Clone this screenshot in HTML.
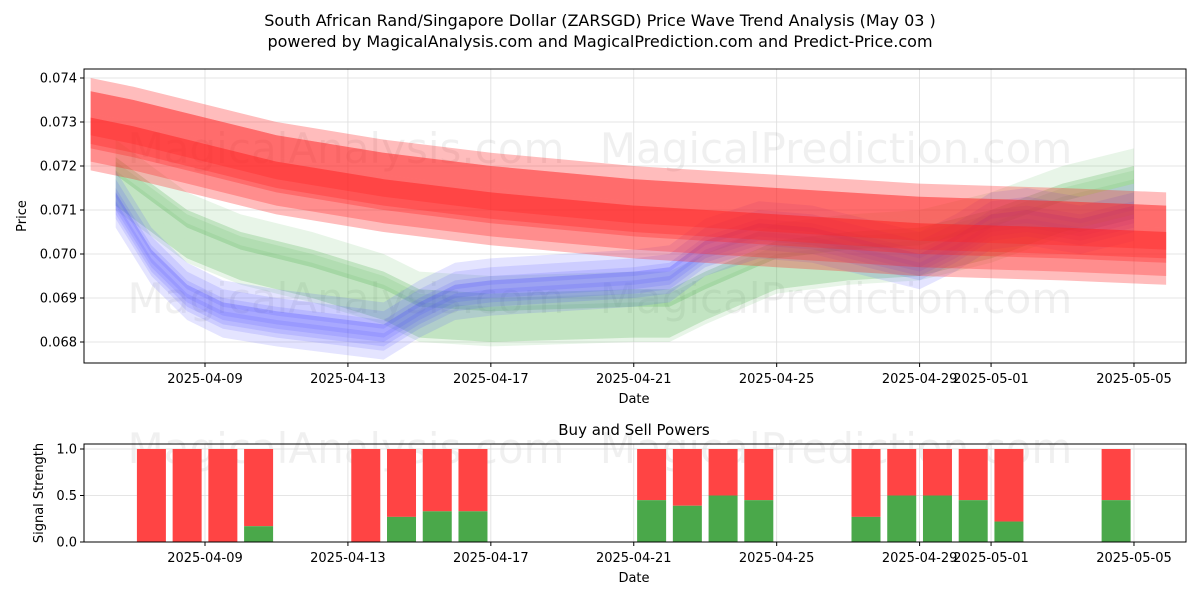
<!DOCTYPE html>
<html><head><meta charset="utf-8"><style>
body{margin:0;background:#fff;font-family:"Liberation Sans","DejaVu Sans",sans-serif}
svg text{font-family:"DejaVu Sans","Liberation Sans",sans-serif}
</style></head><body>
<svg id="chart" width="1200" height="600" xmlns="http://www.w3.org/2000/svg">
<rect width="1200" height="600" fill="#fff"/>
<text x="600" y="26" text-anchor="middle" font-size="16">South African Rand/Singapore Dollar (ZARSGD) Price Wave Trend Analysis (May 03 )</text>
<text x="600" y="47" text-anchor="middle" font-size="16">powered by MagicalAnalysis.com and MagicalPrediction.com and Predict-Price.com</text>
<g id="topPanel"></g>
<g id="botPanel"></g>
</svg>
<script>
const NS="http://www.w3.org/2000/svg";
const xTickLabels=["2025-04-09","2025-04-13","2025-04-17","2025-04-21","2025-04-25","2025-04-29","2025-05-01","2025-05-05"];
const xTickDays=[0,4,8,12,16,20,22,26];
const yTickLabels=["0.068","0.069","0.070","0.071","0.072","0.073","0.074"];
const yTickValues=[0.068,0.069,0.070,0.071,0.072,0.073,0.074];
const redDays=[-3.2,-2,0,2,5,8,12,16,20,24,26.9];
const redVals=[0.0728,0.0726,0.0722,0.0718,0.0714,0.0711,0.0708,0.0706,0.0704,0.0703,0.0702];
const blueDays=[-2.5,-1.5,-0.5,0.5,2,4,5,6,7,8,10,12,13,14,15.5,17,19,20,21,22,23,24.5,26];
const blueVals=[0.0713,0.0700,0.0692,0.0688,0.0686,0.0684,0.0683,0.0688,0.0692,0.0693,0.0694,0.0695,0.0696,0.0702,0.0706,0.0705,0.0701,0.0699,0.0703,0.0708,0.0709,0.0707,0.0710];
const greenDays=[-2.5,-1.5,-0.5,1,3,5,6,8,12,13,14,16,18,20,22,24,26];
const greenVals=[0.0716,0.0710,0.0704,0.0699,0.0695,0.0690,0.0686,0.0685,0.0686,0.0686,0.0690,0.0697,0.0699,0.0700,0.0704,0.0710,0.0714];
const barDays=[-2,-1,0,1,4,5,6,7,12,13,14,15,18,19,20,21,22,25];
const buyVals=[0,0,0,0.17,0,0.27,0.33,0.33,0.45,0.39,0.5,0.45,0.27,0.5,0.5,0.45,0.22,0.45];
const sigTickLabels=["0.0","0.5","1.0"];const sigTickValues=[0,0.5,1];

const L=84,R=1186,T1=69,B1=363,T2=444,B2=542;
const xs=d=>205+d*35.73;
const ys=v=>342-(v-0.068)*44000;
const ys2=v=>542-v*93;
function el(p,tag,a){const e=document.createElementNS(NS,tag);for(const k in a)e.setAttribute(k,a[k]);p.appendChild(e);return e;}
const topG=document.getElementById('topPanel'),botG=document.getElementById('botPanel');
xTickDays.forEach((d,i)=>{
  let g=el(topG,'line',{x1:xs(d),x2:xs(d),y1:T1,y2:B1,stroke:'#ddd','stroke-width':0.8});
  
  let g2=el(botG,'line',{x1:xs(d),x2:xs(d),y1:T2,y2:B2,stroke:'#ddd','stroke-width':0.8});
  
  el(topG,'line',{x1:xs(d),x2:xs(d),y1:B1,y2:B1+4,stroke:'#000'});
  el(botG,'line',{x1:xs(d),x2:xs(d),y1:B2,y2:B2+4,stroke:'#000'});
  let t=el(topG,'text',{x:xs(d),y:B1+20,'text-anchor':'middle','font-size':13});t.textContent=xTickLabels[i];
  
  let t2=el(botG,'text',{x:xs(d),y:B2+20,'text-anchor':'middle','font-size':13});t2.textContent=xTickLabels[i];
  
});
yTickValues.forEach((v,i)=>{
  let g=el(topG,'line',{x1:L,x2:R,y1:ys(v),y2:ys(v),stroke:'#ddd','stroke-width':0.8});
  
  el(topG,'line',{x1:L-4,x2:L,y1:ys(v),y2:ys(v),stroke:'#000'});
  let t=el(topG,'text',{x:L-7,y:ys(v)+4.5,'text-anchor':'end','font-size':13});t.textContent=yTickLabels[i];
  
});
sigTickValues.forEach((v,i)=>{
  let g=el(botG,'line',{x1:L,x2:R,y1:ys2(v),y2:ys2(v),stroke:'#ddd','stroke-width':0.8});
  
  el(botG,'line',{x1:L-4,x2:L,y1:ys2(v),y2:ys2(v),stroke:'#000'});
  let t=el(botG,'text',{x:L-7,y:ys2(v)+4.5,'text-anchor':'end','font-size':13});t.textContent=sigTickLabels[i];
  
});
[[346,163],[836,163],[346,313],[836,313],[346,463],[836,463]].forEach(p=>{
  let t=el(topG,'text',{x:p[0],y:p[1],'text-anchor':'middle','font-size':42,fill:'#000','fill-opacity':0.06});
  t.textContent=p[0]<600?'MagicalAnalysis.com':'MagicalPrediction.com';
  
});
const clip=el(topG,'clipPath',{id:'c1'});el(clip,'rect',{x:L,y:T1,width:R-L,height:B1-T1});
const bands=el(topG,'g',{'clip-path':'url(#c1)'});
function band(days,vals,off,half,color,op,name){
  const up=days.map((d,i)=>xs(d)+','+ys(vals[i]+off+half));
  const dn=days.map((d,i)=>xs(d)+','+ys(vals[i]+off-half)).reverse();
  const p=el(bands,'polygon',{points:up.concat(dn).join(' '),fill:color,'fill-opacity':op});
  
}
[[0.0002,0.0003],[-0.0001,0.0004],[0.0004,0.0002],[0,0.0006],[-0.0003,0.0002],[0.0006,0.0004]].forEach(b=>band(greenDays,greenVals,b[0],b[1],'#4caf50',0.13,'green-wave-band'));
[[0,0.0002],[-0.0002,0.0003],[0.0002,0.0002],[-0.0004,0.0003],[0.0001,0.0005],[-0.0001,0.0002]].forEach(b=>band(blueDays,blueVals,b[0],b[1],'#4d4dff',0.15,'blue-wave-band'));
[[0,0.0004],[0.0003,0.0006],[-0.0002,0.0005],[0.0008,0.0004],[0,0.0009],[0.0001,0.0002]].forEach(b=>band(redDays,redVals,b[0],b[1],'#ff2020',0.3,'red-wave-band'));
el(topG,'rect',{x:L,y:T1,width:R-L,height:B1-T1,fill:'none',stroke:'#000','stroke-width':1});
let tx=el(topG,'text',{x:634,y:403,'text-anchor':'middle','font-size':13});tx.textContent='Date';

let ty=el(topG,'text',{x:26,y:216,'text-anchor':'middle','font-size':13,transform:'rotate(-90 26 216)'});ty.textContent='Price';

barDays.forEach((d,i)=>{
  const cx=xs(d+0.5),w=29;
  let r=el(botG,'rect',{x:cx-w/2,y:ys2(1),width:w,height:ys2(buyVals[i])-ys2(1),fill:'#ff4444'});
  
  let g=el(botG,'rect',{x:cx-w/2,y:ys2(buyVals[i]),width:w,height:ys2(0)-ys2(buyVals[i]),fill:'#4aa84a'});
  
});
el(botG,'rect',{x:L,y:T2,width:R-L,height:B2-T2,fill:'none',stroke:'#000','stroke-width':1});
let st=el(botG,'text',{x:634,y:435,'text-anchor':'middle','font-size':15});st.textContent='Buy and Sell Powers';

let bx=el(botG,'text',{x:634,y:582,'text-anchor':'middle','font-size':13});bx.textContent='Date';

let by=el(botG,'text',{x:43,y:493,'text-anchor':'middle','font-size':13,transform:'rotate(-90 43 493)'});by.textContent='Signal Strength';

</script>
</body></html>
